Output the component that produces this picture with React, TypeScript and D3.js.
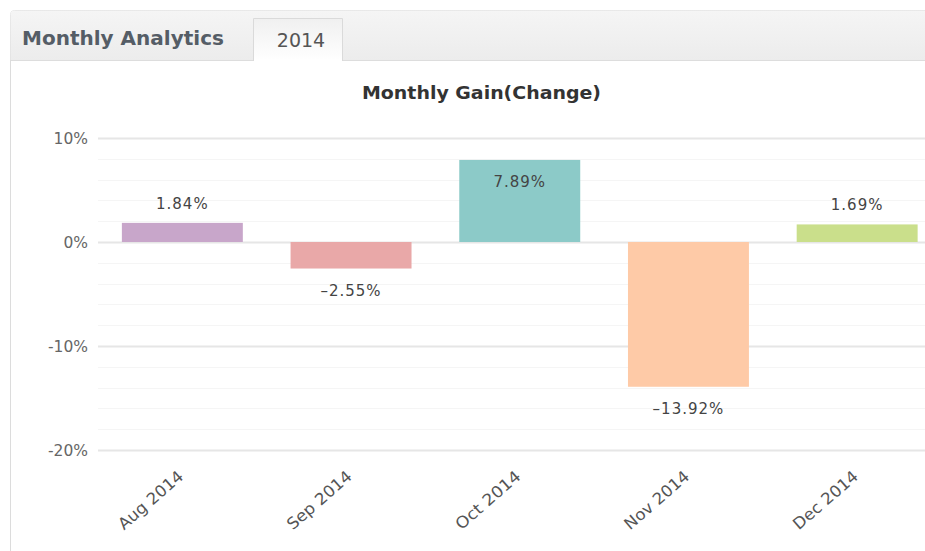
import React from "react";
import * as d3 from "d3";

const categories = ["Aug 2014", "Sep 2014", "Oct 2014", "Nov 2014", "Dec 2014"];
const gains = [1.84, -2.55, 7.89, -13.92, 1.69];
const barColors = ["#c8a6ca", "#e9a8a8", "#8ccac8", "#fecaa7", "#cadf8b"];
const yTicks = [10, 0, -10, -20];
const minorTicks = d3.range(-20, 12, 2);

const W = 925;
const H = 551;

export default function App() {
  const plotLeft = 98;
  const plotRight = 941.5;
  const x = d3.scaleBand<string>().domain(categories).range([plotLeft, plotRight]).paddingInner(0.283).paddingOuter(0.1415);
  const y = d3.scaleLinear().domain([-20, 10]).range([450, 138]);
  const fmt = (v: number) => (v < 0 ? "\u2013" + Math.abs(v).toFixed(2) : v.toFixed(2)) + "%";
  const labelY = (v: number, top: number, bot: number) => {
    if (v < 0) return bot + 27;
    if (y(v) - y(10) < 30) return top + 27;
    return top - 14;
  };

  return (
    <div style={{ position: "absolute", left: 0, top: 0, width: W, height: H, background: "#fff" }}>
      <svg width={W} height={H} style={{ display: "block" }}>
        <defs>
          <linearGradient id="hdr" x1="0" y1="0" x2="0" y2="1">
            <stop offset="0" stopColor="#f5f5f5" />
            <stop offset="1" stopColor="#ececec" />
          </linearGradient>
          <linearGradient id="tab" x1="0" y1="0" x2="0" y2="1">
            <stop offset="0" stopColor="#f0f0f0" />
            <stop offset="1" stopColor="#ffffff" />
          </linearGradient>
        </defs>
        {/* panel */}
        <rect x={10.5} y={10.5} width={940} height={560} rx={4} fill="#fff" stroke="#dcdcdc" />
        <path d="M10.5,60 L10.5,14.5 Q10.5,10.5 14.5,10.5 L950,10.5 L950,60 Z" fill="url(#hdr)" />
        <line x1={10.5} x2={950} y1={60.5} y2={60.5} stroke="#dddddd" />
        {/* active tab */}
        <path d="M253.5,61 L253.5,18.5 L342.5,18.5 L342.5,61" fill="url(#tab)" stroke="#dadada" />
        <rect x={254} y={59} width={88} height={3} fill="#ffffff" />
        <text x={22} y={45} textLength={202} lengthAdjust="spacingAndGlyphs" fontFamily="'DejaVu Sans', Verdana, sans-serif" fontWeight="bold" fontSize={19} fill="#555d66">
          Monthly Analytics
        </text>
        <text x={301} y={47} textAnchor="middle" fontFamily="'DejaVu Sans', Verdana, sans-serif" fontSize={19} fill="#555">
          2014
        </text>

        {/* title */}
        <text x={481.5} y={99} textAnchor="middle" textLength={239} lengthAdjust="spacingAndGlyphs" fontFamily="'DejaVu Sans', Verdana, sans-serif" fontWeight="bold" fontSize={18} fill="#333">
          Monthly Gain(Change)
        </text>

        {/* grid */}
        {minorTicks.map((t) => (
          <line key={"m" + t} x1={plotLeft} x2={W} y1={Math.round(y(t)) + 0.5} y2={Math.round(y(t)) + 0.5} stroke={t % 10 === 0 ? "#e6e6e6" : "#f5f5f5"} strokeWidth={t % 10 === 0 ? 2 : 1} />
        ))}
        {yTicks.map((t) => (
          <text key={"t" + t} x={88} y={y(t)} dy="0.36em" textAnchor="end" fontFamily="'DejaVu Sans', Verdana, sans-serif" fontSize={15.5} fill="#666">
            {t + "%"}
          </text>
        ))}

        {/* bars */}
        {gains.map((v, i) => {
          const x0 = x(categories[i])!;
          const top = y(Math.max(0, v));
          const bot = y(Math.min(0, v));
          return (
            <g key={i}>
              <rect x={x0} y={top} width={x.bandwidth()} height={bot - top} fill={barColors[i]} />
              <text
                x={x0 + x.bandwidth() / 2}
                y={labelY(v, top, bot)}
                textAnchor="middle"
                fontFamily="'DejaVu Sans', Verdana, sans-serif"
                fontSize={15}
                letterSpacing={1}
                fill="#444"
              >
                {fmt(v)}
              </text>
            </g>
          );
        })}

        {/* x labels */}
        {categories.map((c) => {
          const cx = x(c)! + x.bandwidth() / 2;
          return (
            <text
              key={c}
              transform={`translate(${cx + 2},${478}) rotate(-41)`}
              textAnchor="end"
              fontFamily="'DejaVu Sans', Verdana, sans-serif"
              fontSize={16}
              textLength={80}
              lengthAdjust="spacingAndGlyphs"
              fill="#555"
            >
              {c}
            </text>
          );
        })}
      </svg>
    </div>
  );
}
